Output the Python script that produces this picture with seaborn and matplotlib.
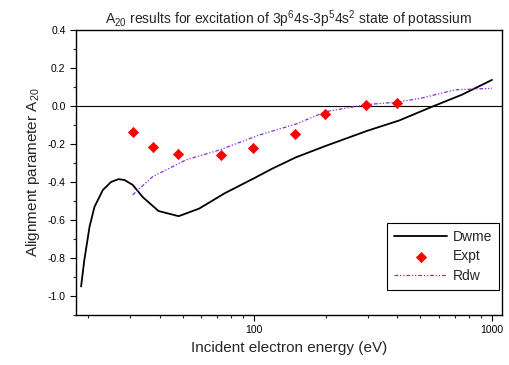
import numpy as np
import pandas as pd
import seaborn as sns
import matplotlib.pyplot as plt
from matplotlib.ticker import AutoMinorLocator, LogLocator, NullFormatter, FixedLocator

# Datos
dwme_e = [18.7, 19.3, 20.3, 21.3, 23.1, 25.0, 26.9, 28.5, 30.8, 34.0, 39.6, 48.1, 58.7, 75.0, 100, 119, 150, 200, 300, 406, 560, 750, 1000]
dwme_a = [-0.95, -0.81, -0.635, -0.53, -0.442, -0.40, -0.385, -0.39, -0.415, -0.48, -0.553, -0.58, -0.54, -0.46, -0.38, -0.33, -0.27, -0.21, -0.13, -0.077, -0.004, 0.06, 0.137]

expt_e = [30.8, 37.4, 47.6, 72.4, 99, 149, 199, 296, 398]
expt_a = [-0.138, -0.216, -0.254, -0.258, -0.219, -0.147, -0.04, 0.007, 0.016]

rdw_e = [30.8, 37.4, 51.6, 71.3, 105, 150, 200, 296, 398, 500, 700, 1000]
rdw_a = [-0.468, -0.372, -0.284, -0.232, -0.153, -0.095, -0.03, 0.007, 0.02, 0.04, 0.085, 0.093]

df_dwme = pd.DataFrame({'E': dwme_e, 'A': dwme_a})
df_expt = pd.DataFrame({'E': expt_e, 'A': expt_a})
df_rdw = pd.DataFrame({'E': rdw_e, 'A': rdw_a})

sns.set_style("ticks")
plt.rcParams['font.family'] = ['Liberation Sans', 'DejaVu Sans']
plt.rcParams['mathtext.fontset'] = 'custom'
plt.rcParams['mathtext.rm'] = 'Liberation Sans'

fig = plt.figure(figsize=(5.1, 3.65), dpi=100)
ax = fig.add_axes([0.149, 0.137, 0.835, 0.781])

ax.axhline(0, color='black', lw=0.8, zorder=1)
sns.lineplot(data=df_dwme, x='E', y='A', color='black', lw=1.3, ax=ax, label='Dwme')
sns.scatterplot(data=df_expt, x='E', y='A', color='red', marker='D', s=28, edgecolor='red', ax=ax, label='Expt', zorder=3)
sns.lineplot(data=df_rdw, x='E', y='A', color='#8a2be2', lw=0.9, ax=ax, label='Rdw',
             dashes=False, linestyle=(0, (3, 1.5, 1, 1.5, 1, 1.5)))

ax.set_xscale('log')
ax.set_xlim(17.8, 1100)
ax.set_ylim(-1.1, 0.4)
ax.set_yticks([-1.0, -0.8, -0.6, -0.4, -0.2, 0.0, 0.2, 0.4])
ax.set_yticklabels(['-1.0', '-0.8', '-0.6', '-0.4', '-0.2', '0.0', '0.2', '0.4'])
ax.yaxis.set_minor_locator(AutoMinorLocator(2))
ax.xaxis.set_major_locator(FixedLocator([100, 1000]))
ax.xaxis.set_minor_locator(LogLocator(base=10, subs=np.arange(2, 10)))
ax.xaxis.set_minor_formatter(NullFormatter())
ax.set_xticklabels(['100', '1000'])

ax.tick_params(which='major', direction='out', length=4, width=0.8, labelsize=7.5, colors='black')
ax.tick_params(which='minor', direction='out', length=2.5, width=0.8)
for sp in ax.spines.values():
    sp.set_visible(True)
    sp.set_color('black')
    sp.set_linewidth(1.0)

ax.set_xlabel('Incident electron energy (eV)', fontsize=11)
ax.set_ylabel('Alignment parameter A$_{20}$', fontsize=11)
ax.set_title('A$_{20}$ results for excitation of 3p$^{6}$4s-3p$^{5}$4s$^{2}$ state of potassium', fontsize=10, pad=3)

leg = ax.legend(loc='lower right', bbox_to_anchor=(0.993, 0.088), borderaxespad=0, fontsize=10,
                fancybox=False, framealpha=1, edgecolor='black', handlelength=3.8, handletextpad=0.4,
                borderpad=0.5, labelspacing=0.4)
leg.get_frame().set_linewidth(0.8)

fig.savefig('out.png', dpi=100)
